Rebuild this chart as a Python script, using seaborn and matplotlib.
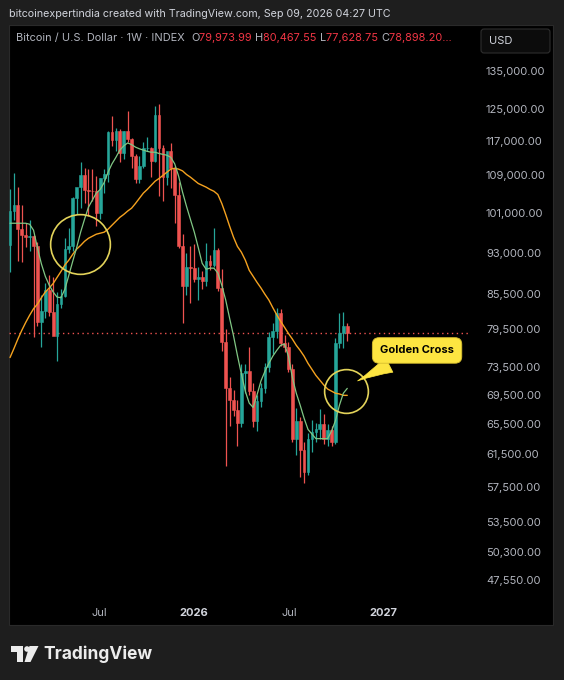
import matplotlib
matplotlib.use("Agg")
import matplotlib.pyplot as plt
from matplotlib.patches import Rectangle, FancyBboxPatch, Circle, Polygon
from matplotlib.ticker import NullLocator
import seaborn as sns
import numpy as np
import pandas as pd

# weekly BTC index candles, week 0 = mid Jan 2025 (values in USD)
weeks = list(range(87))
opens = [94500, 101300, 102600, 97700, 96500, 96100, 96300, 94300, 80700, 82600,
         86100, 82400, 78400, 83700, 85100, 93700, 94300, 104100, 106500, 109000,
         105700, 105600, 105500, 100900, 108400, 109200, 119100, 117300, 119400, 114200,
         119300, 117400, 113500, 108200, 111100, 115300, 115400, 112200, 123500, 115200,
         108600, 114500, 110600, 104700, 94300, 86800, 90400, 90100, 88200, 88500,
         87800, 91500, 90600, 93600, 86500, 77500, 70400, 68800, 67300, 65600,
         72600, 72900, 70000, 65900, 68600, 70400, 73500, 78300, 79200, 82200,
         77300, 76600, 73300, 63400, 65900, 62000, 59300, 63400, 64400, 64800,
         65400, 63500, 64600, 63000, 77300, 78800, 79973.99]
highs = [106000, 109600, 106500, 102500, 98800, 99500, 96500, 95000, 85300, 87400,
         88800, 88500, 85800, 86400, 95800, 97900, 104300, 105800, 112000, 110700,
         110500, 110400, 108900, 108500, 110500, 119400, 123200, 120200, 119800, 119300,
         124500, 117600, 113800, 113400, 116700, 117900, 115600, 125700, 126200, 115900,
         114000, 116400, 111000, 107500, 96600, 93000, 94200, 94600, 90400, 89500,
         94800, 92500, 97900, 93900, 90000, 79500, 72000, 70200, 68800, 74000,
         74000, 76600, 71200, 69500, 71200, 74200, 79000, 80500, 83000, 82900,
         78500, 77500, 74000, 67600, 66400, 63000, 64200, 66000, 65600, 67500,
         66800, 65500, 65200, 78000, 82200, 82300, 80467.55]
lows = [89300, 99500, 91500, 91200, 94100, 93300, 78200, 80000, 76600, 81300,
        81600, 81200, 74500, 83100, 85000, 92900, 93400, 100700, 102000, 103000,
        100300, 103400, 98200, 99600, 105100, 107500, 115700, 114700, 112000, 112700,
        116800, 110700, 107300, 107300, 110700, 114600, 108600, 112000, 104500, 103500,
        106800, 106300, 98900, 94000, 80500, 85300, 83800, 87600, 84400, 86400,
        86800, 89800, 90300, 86000, 76000, 60000, 65200, 66500, 62600, 65000,
        69800, 69500, 65000, 64500, 67800, 69800, 72800, 75500, 78000, 76800,
        75800, 72800, 63000, 61400, 58700, 58000, 58900, 61800, 63000, 63500,
        62800, 62500, 62600, 62800, 76500, 76500, 77628.75]
closes = [101300, 102600, 97700, 96500, 96100, 96300, 94300, 80700, 82600, 86100,
          82400, 78400, 83700, 85100, 93700, 94300, 104100, 106500, 109000, 105700,
          105600, 105500, 100900, 108400, 109200, 119100, 117300, 119400, 114200, 119300,
          117400, 113500, 108200, 111100, 115300, 115400, 112200, 123500, 115200, 108600,
          114500, 110600, 104700, 94300, 86800, 90400, 90100, 88200, 88500, 87800,
          91500, 90600, 93600, 86500, 77500, 70400, 68800, 67300, 65600, 72600,
          72900, 70000, 65900, 68600, 70400, 73500, 78300, 79200, 82200, 77300,
          76600, 73300, 63400, 65900, 62000, 59300, 63400, 64400, 64800, 65400,
          63500, 64600, 63000, 77300, 78800, 79973.99, 78898.20]

# moving averages
ma_fast = [98800, 98800, 98800, 98800, 98800, 98600, 97400, 93900, 90900, 88600,
           87000, 85800, 84900, 84800, 86300, 88800, 91400, 94000, 97000, 99600,
           102100, 103600, 105100, 105900, 107400, 109700, 111600, 113100, 114800, 115800,
           116500, 116100, 115500, 115100, 114800, 114500, 114300, 114300, 114000, 113800,
           113600, 113100, 111600, 108800, 105300, 102300, 99600, 97000, 94000, 91000,
           89900, 90100, 90100, 89200, 87000, 84400, 81300, 78400, 75300, 72500,
           70000, 68300, 67700, 69500, 71500, 72900, 74100, 75200, 76100, 76900,
           77100, 75200, 72000, 69700, 68000, 66200, 64700, 64100, 63500, 63500,
           63500, 63500, 64500, 65900, 68000, 69700, 70400]
ma_slow = [75000, 76400, 77900, 79300, 80600, 81800, 82900, 83700, 84800, 85800,
           86500, 87300, 88400, 89500, 90700, 91600, 92700, 93700, 94400, 95200,
           95800, 96200, 96600, 96800, 97000, 97600, 98400, 99200, 100000, 100600,
           101300, 101900, 102900, 104000, 105100, 105900, 106800, 107700, 108300, 109000,
           109700, 110400, 110600, 110400, 110000, 109200, 108600, 107900, 107200, 106800,
           106400, 105900, 105500, 104800, 102900, 100600, 98200, 96000, 94200, 93100,
           91600, 89700, 88600, 87500, 86500, 85400, 84400, 83100, 81900, 80800,
           79800, 78800, 77900, 76900, 76100, 75200, 74100, 73200, 72300, 71600,
           70900, 70300, 70000, 69700, 69600, 69400, 69400]

y_ticks = [135000, 125000, 117000, 109000, 101000, 93000, 85500, 79500, 73500,
           69500, 65500, 61500, 57500, 53500, 50300, 47550]
x_tick_pos = [22.7, 46.9, 71.2, 95.2]
x_tick_labels = ["Jul", "2026", "Jul", "2027"]
header_title = "Bitcoin / U.S. Dollar · 1W · INDEX"
ohlc_letters = ["O", "H", "L", "C"]
ohlc_values = ["79,973.99", "80,467.55", "77,628.75", "78,898.20…"]

UP = "#26a69a"
DOWN = "#ef5350"
TXT = "#b2b5be"

sns.set_theme(style="dark", rc={"axes.facecolor": "none", "figure.facecolor": "#1e1e1e"})
plt.rcParams["font.family"] = ["Inter", "DejaVu Sans"]

fig = plt.figure(figsize=(5.64, 6.8), dpi=100, facecolor="#1e1e1e")

# background layer in pixel coordinates
bg = fig.add_axes([0, 0, 1, 1], zorder=0)
bg.set_xlim(0, 564)
bg.set_ylim(680, 0)
bg.axis("off")
bg.add_patch(Rectangle((9, 25), 544, 600, facecolor="black", edgecolor="#2a2a2a", lw=0.8))

ax = fig.add_axes([9 / 564, 80 / 680, 461 / 564, 575 / 680], zorder=1)
ax.set_facecolor("none")

df = pd.DataFrame({"week": weeks, "open": opens, "high": highs, "low": lows,
                   "close": closes, "ma_fast": ma_fast, "ma_slow": ma_slow})
df["color"] = np.where(df["close"] >= df["open"], UP, DOWN)
df["body_lo"] = df[["open", "close"]].min(axis=1)
df["body_h"] = (df["close"] - df["open"]).abs()

ax.set_yscale("log")
ax.vlines(df["week"], df["low"], df["high"], colors=df["color"], lw=0.9, zorder=2)
ax.bar(df["week"], df["body_h"], bottom=df["body_lo"], width=0.7, color=df["color"],
       edgecolor=df["color"], lw=0.4, zorder=3)

sns.lineplot(data=df, x="week", y="ma_slow", ax=ax, color="#f5a21f", lw=1.0,
             estimator=None, sort=False, zorder=4)
sns.lineplot(data=df, x="week", y="ma_fast", ax=ax, color="#81c784", lw=0.9,
             estimator=None, sort=False, zorder=5)

# last price dotted line
ax.axhline(closes[-1], color=DOWN, lw=1.0, ls=(0, (1, 2.5)), zorder=1)

# annotation circles
ax.plot([17.9], [94600], marker="o", ms=43, mfc="none", mec="#e3d35a", mew=1.2, zorder=6)
ax.plot([85.7], [70000], marker="o", ms=31.5, mfc="none", mec="#e3d35a", mew=1.2, zorder=6)

ax.annotate("Golden Cross", xy=(88.0, 71300), xytext=(103.8, 76100),
            ha="center", va="center", fontsize=8, fontweight="bold", color="black",
            bbox=dict(boxstyle="round,pad=0.7,rounding_size=0.6", fc="#fde541",
                      ec="#d6bd2e", lw=0.6),
            arrowprops=dict(arrowstyle="wedge,tail_width=1.5,shrink_factor=0.4",
                            fc="#fde541", ec="#fde541", lw=0.5),
            zorder=7)

ax.set_xlim(-0.26, 117.3)
ax.set_ylim(45600, 148400)
ax.yaxis.tick_right()
ax.set_yticks(y_ticks)
ax.set_yticklabels([f"{v:,.2f}" for v in y_ticks])
ax.yaxis.set_minor_locator(NullLocator())
ax.set_xticks(x_tick_pos)
ax.set_xticklabels(x_tick_labels)
ax.tick_params(axis="y", length=0, pad=11.5, labelsize=8, labelcolor=TXT)
ax.tick_params(axis="x", length=0, pad=5.4, labelsize=8, labelcolor=TXT)
for lbl in ax.get_xticklabels():
    if lbl.get_text().isdigit():
        lbl.set_fontweight("bold")
        lbl.set_color("#d1d4dc")
ax.set_xlabel("")
ax.set_ylabel("")
ax.grid(False)
for s in ax.spines.values():
    s.set_visible(False)

# header texts
bg.text(9, 14, "bitcoinexpertindia created with TradingView.com, Sep 09, 2026 04:27 UTC",
        color="#d1d4dc", fontsize=7.7, va="center", ha="left")

renderer = fig.canvas.get_renderer()
pieces = [(header_title + "  ", TXT)]
for letter, val in zip(ohlc_letters, ohlc_values):
    pieces.append((letter, TXT))
    pieces.append((val + " ", "#f23645"))
xpos = 16
for txt, col in pieces:
    t = bg.text(xpos, 38, txt, color=col, fontsize=7.9, va="center", ha="left")
    xpos += t.get_window_extent(renderer=renderer).width

bg.add_patch(FancyBboxPatch((481, 29), 69, 24, boxstyle="round,pad=0,rounding_size=3",
                            fc="#0c0c0c", ec="#2e2e2e", lw=0.8))
bg.text(489, 41.5, "USD", color="#d1d4dc", fontsize=8, va="center", ha="left")

# footer logo
logo = "#ececec"
bg.add_patch(Polygon([(10.5, 646), (23, 646), (23, 662), (17, 662), (17, 651.5), (10.5, 651.5)],
                     closed=True, fc=logo, ec="none"))
bg.add_patch(Circle((27, 649), 2.8, fc=logo, ec="none"))
bg.add_patch(Polygon([(29.5, 646), (38.5, 646), (30.5, 662), (24.5, 662)],
                     closed=True, fc=logo, ec="none"))
bg.text(43, 654, "TradingView", color=logo, fontsize=12.5, fontweight="bold",
        va="center", ha="left")

fig.savefig("out.png", dpi=100, facecolor=fig.get_facecolor())
